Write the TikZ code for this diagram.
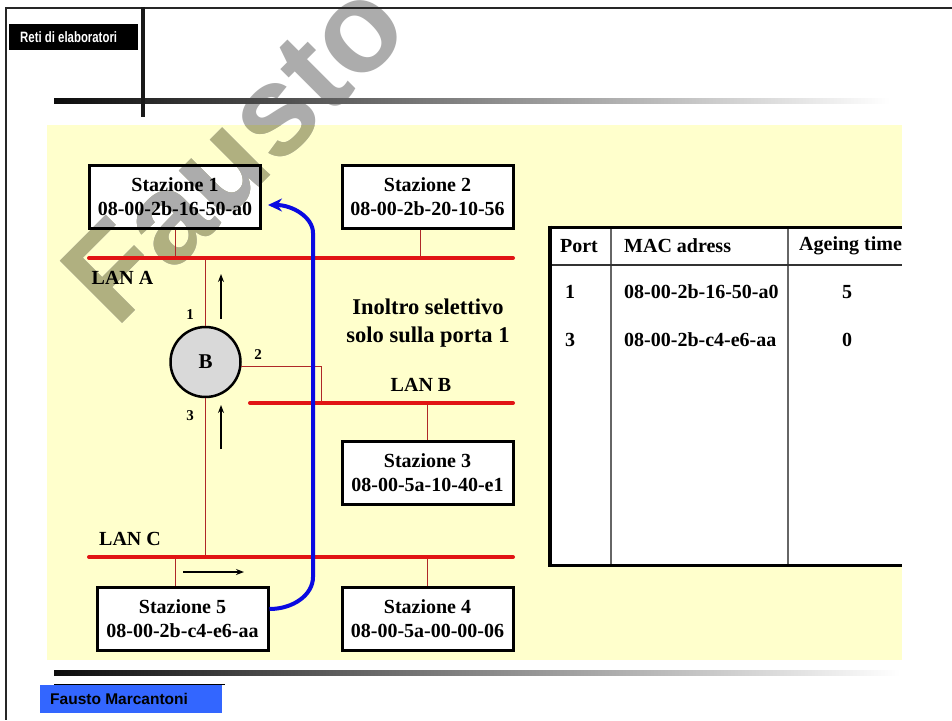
\documentclass[tikz,border=0pt]{standalone}
\usepackage{fontspec}
\setmainfont{Liberation Serif}
\newfontfamily\sansf{Liberation Sans}
\usetikzlibrary{arrows.meta}

\definecolor{bgyellow}{RGB}{255,255,204}
\definecolor{lanred}{RGB}{225,20,20}
\definecolor{dropred}{RGB}{175,40,40}
\definecolor{flowblue}{RGB}{10,10,225}
\definecolor{footblue}{RGB}{51,102,255}
\definecolor{bridgegray}{RGB}{217,217,217}
\definecolor{wmgray}{RGB}{172,172,172}
\definecolor{wmolive}{RGB}{176,176,128}

\newcommand{\wmtext}[1]{\node[anchor=base west, rotate=45, inner sep=0pt, text=#1,
  font=\sansf\bfseries\fontsize{128}{128}\selectfont] at (116,330) {Fausto};}

\begin{document}
\begin{tikzpicture}[x=1pt,y=-1pt,
  stationbox/.style={draw=black, line width=3pt, fill=white, minimum width=171pt,
    minimum height=63pt, inner sep=0pt, align=center,
    font=\fontsize{20}{24}\selectfont\bfseries},
  lan/.style={draw=lanred, line width=4pt, line cap=round},
  drop/.style={draw=dropred, line width=1pt},
  lbl/.style={font=\fontsize{20}{24}\selectfont\bfseries, inner sep=0pt},
  portlbl/.style={font=\fontsize{15}{17}\selectfont\bfseries, inner sep=0pt},
  dirarrow/.style={-{Stealth[length=8pt,width=6pt]}, line width=1.5pt},
  cell/.style={font=\fontsize{20}{24}\selectfont\bfseries, inner sep=0pt},
  gridline/.style={draw=black!60, line width=1.5pt},
]
\useasboundingbox (0,0) rectangle (952,720);
\fill[white] (0,0) rectangle (952,720);

% yellow panel and white interior of station 1
\fill[bgyellow] (47,125) rectangle (902,660);
\fill[white] (89,165) rectangle (261,228);

% watermark (under the drawing, opaque tints per background)
\wmtext{wmgray}
\begin{scope}
  \clip (47,125) rectangle (902,660);
  \wmtext{wmolive}
\end{scope}
\begin{scope}
  \clip (89,165) rectangle (261,228);
  \wmtext{wmgray}
\end{scope}

% frame and header
\draw[line width=2pt, black!85] (952,8) -- (6,8) -- (6,720);
\node[fill=black, minimum width=129pt, minimum height=26pt, inner sep=0pt, anchor=north west] (titlebox) at (9,24) {};
\node[text=white, inner sep=0pt, anchor=west, font=\sansf\bfseries\fontsize{15}{17}\selectfont] (title) at (20,37) {\scalebox{0.76}[1]{Reti di elaboratori}};
\shade[left color=black!95, right color=white] (54,98) rectangle (890,103);
\draw[line width=3.5pt, black!90] (143,7) -- (143,117);

% LAN coordinates
\coordinate (lanAw) at (89,258);  \coordinate (lanAe) at (513,258);
\coordinate (lanBw) at (250,403); \coordinate (lanBe) at (513,403);
\coordinate (lanCw) at (89,557);  \coordinate (lanCe) at (513,557);
\coordinate (lanBj) at (321,403);

% stations
\node[stationbox, fill=none] (s1) at (175,196.5) {Stazione 1\\08-00-2b-16-50-a0};
\node[stationbox] (s2) at (427.5,196.5) {Stazione 2\\08-00-2b-20-10-56};
\node[stationbox] (s3) at (427.5,473) {Stazione 3\\08-00-5a-10-40-e1};
\node[stationbox] (s5) at (182.5,619) {Stazione 5\\08-00-2b-c4-e6-aa};
\node[stationbox] (s4) at (427.5,619) {Stazione 4\\08-00-5a-00-00-06};

% bridge
\node[circle, draw=black, line width=2.5pt, fill=bridgegray, minimum size=70pt, inner sep=0pt,
  font=\fontsize{21}{24}\selectfont\bfseries] (br) at (205.5,362) {B};

% drops
\draw[drop] (s1.south) -- (s1.south |- lanAw);
\draw[drop] ([xshift=-7.5pt]s2.south) -- ([xshift=-7.5pt]s2.south |- lanAw);
\draw[drop] (s3.north) -- (s3.north |- lanBw);
\draw[drop] ([xshift=-7.5pt]s5.north) -- ([xshift=-7.5pt]s5.north |- lanCw);
\draw[drop] (s4.north) -- (s4.north |- lanCw);
\draw[drop] (br.north) -- (br.north |- lanAw);
\draw[drop] (br.south) -- (br.south |- lanCw);
\draw[drop] (br.-7) -- (br.-7 -| lanBj) -- (lanBj);

% LANs
\draw[lan] (lanAw) -- (lanAe);
\draw[lan] (lanBw) -- (lanBe);
\draw[lan] (lanCw) -- (lanCe);

% labels
\node[lbl] (labA) at (122.5,278) {LAN A};
\node[lbl] (labB) at (421,385) {LAN B};
\node[lbl] (labC) at (130,539) {LAN C};
\node[portlbl] (p1) at (190,315) {1};
\node[portlbl] (p2) at (258,355) {2};
\node[portlbl] (p3) at (190,416) {3};
\node[font=\fontsize{22.5}{28}\selectfont\bfseries, align=center, inner sep=0pt] (note) at (428,323) {Inoltro selettivo\\solo sulla porta 1};

% direction arrows
\coordinate (a1s) at (221,319); \coordinate (a1e) at (221,274);
\coordinate (a2s) at (221,449); \coordinate (a2e) at (221,405);
\coordinate (a3s) at (183,572); \coordinate (a3e) at (244,572);
\draw[dirarrow] (a1s) -- (a1e);
\draw[dirarrow] (a2s) -- (a2e);
\draw[dirarrow] (a3s) -- (a3e);

% blue path
\coordinate (bt) at (268,205);
\draw[flowblue, line width=4pt, -{Stealth[length=14pt,width=13pt]}]
  ([yshift=10pt]s5.east) .. controls (293,609) and (313,595) .. (313,577)
  -- (313,233) .. controls (313,217) and (292,205) .. (bt);

% table
\fill[white] (550,227) rectangle (902,565);
\draw[gridline] (611,227) -- (611,565);
\draw[gridline] (788,227) -- (788,565);
\draw[draw=black!80, line width=1.5pt] (550,265) -- (902,265);
\draw[line width=3pt] (902,227) -- (550,227) -- (550,565) -- (902,565);
\draw[line width=4pt] (550,225.5) -- (550,566.5);
\begin{scope}
\clip (550,227) rectangle (902,565);
\node[cell] (hport) at (579,246) {Port};
\node[cell, anchor=west] (hmac) at (624,246) {MAC adress};
\node[cell, anchor=west] (hage) at (799,246) {Ageing time};
\node[cell] (r1p) at (570,292) {1};
\node[cell, anchor=west] (r1m) at (624,292) {08-00-2b-16-50-a0};
\node[cell] (r1a) at (847,292) {5};
\node[cell] (r2p) at (570,339.5) {3};
\node[cell, anchor=west] (r2m) at (624,339.5) {08-00-2b-c4-e6-aa};
\node[cell] (r2a) at (847,339.5) {0};
\end{scope}

% footer
\shade[left color=black!95, right color=white] (54,670.5) rectangle (900,675.5);
\draw[line width=1pt] (54,684.5) -- (225,684.5);
\fill[footblue] (40,685) rectangle (222,713);
\node[anchor=west, inner sep=0pt, font=\sansf\bfseries\fontsize{15.5}{18}\selectfont] (author) at (50,699) {Fausto Marcantoni};
\end{tikzpicture}
\end{document}
